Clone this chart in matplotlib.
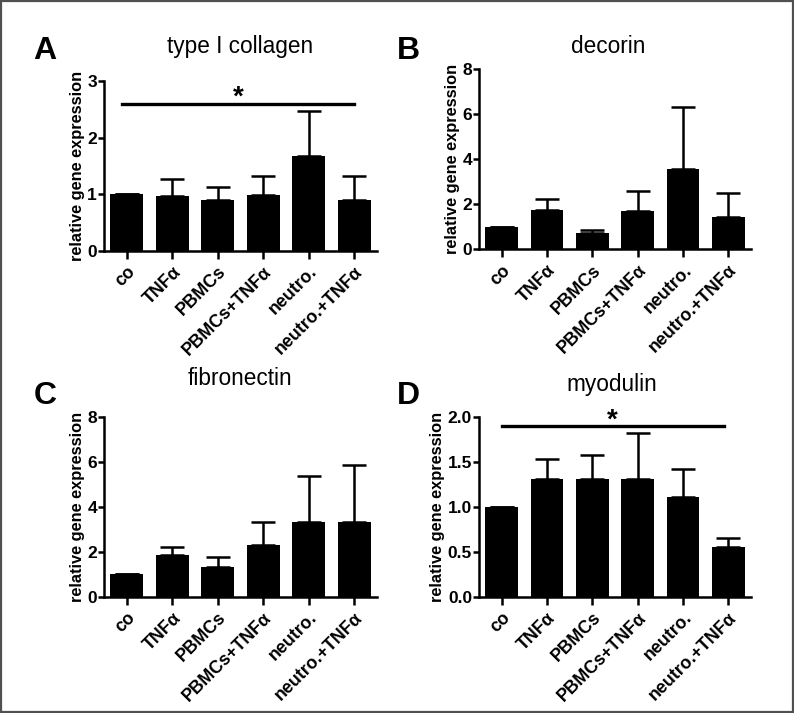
import numpy as np
import matplotlib
matplotlib.use("Agg")
import matplotlib.pyplot as plt
from matplotlib.patches import Rectangle

plt.rcParams['font.family'] = ['Liberation Sans', 'DejaVu Sans']

# ================================================
# DATA
# ================================================
groups = ["co", "TNF\u03b1", "PBMCs", "PBMCs+TNF\u03b1", "neutro.", "neutro.+TNF\u03b1"]

collagen_mean = [1.0, 0.97, 0.89, 0.99, 1.67, 0.90]
collagen_top = [1.0, 1.27, 1.12, 1.32, 2.47, 1.32]

decorin_mean = [1.0, 1.75, 0.71, 1.72, 3.55, 1.42]
decorin_top = [1.0, 2.22, 0.86, 2.60, 6.34, 2.52]

fibronectin_mean = [1.0, 1.85, 1.33, 2.30, 3.33, 3.33]
fibronectin_top = [1.0, 2.19, 1.75, 3.31, 5.38, 5.85]

myodulin_mean = [1.0, 1.31, 1.31, 1.31, 1.11, 0.55]
myodulin_top = [1.0, 1.53, 1.57, 1.82, 1.42, 0.65]

# significance bars: (level, from, to) or None
collagen_sig = (2.6, -0.1, 5.0)
myodulin_sig = (1.9, 0.0, 4.9)

panels = [
    ("A", "type I collagen", collagen_mean, collagen_top, 3, [0, 1, 2, 3], ["0", "1", "2", "3"], collagen_sig),
    ("B", "decorin", decorin_mean, decorin_top, 8, [0, 2, 4, 6, 8], ["0", "2", "4", "6", "8"], None),
    ("C", "fibronectin", fibronectin_mean, fibronectin_top, 8, [0, 2, 4, 6, 8], ["0", "2", "4", "6", "8"], None),
    ("D", "myodulin", myodulin_mean, myodulin_top, 2, [0, 0.5, 1, 1.5, 2], ["0.0", "0.5", "1.0", "1.5", "2.0"], myodulin_sig),
]

W, H = 794, 713
# axes boxes in pixels (left, top, right, bottom)
boxes = [
    (104, 81, 377, 250.7),
    (479, 69.3, 751, 249.3),
    (104, 416.7, 377, 596.7),
    (479, 416.7, 751, 596.7),
]
# panel letter and title positions in pixels
letter_pos = [(33, 51), (397, 51), (34, 396), (397, 396)]
title_pos = [(240, 53), (608, 53), (240, 385), (612, 391)]

fig = plt.figure(figsize=(W / 100, H / 100), dpi=100)
fig.patches.append(Rectangle((0.0015, 0.0015), 0.997, 0.997, transform=fig.transFigure,
                             fill=False, edgecolor="#505050", linewidth=1.6))

x = np.arange(len(groups))

for i, (letter, title, mean, top, ymax, yt, ytl, sig) in enumerate(panels):
    l, t, r, b = boxes[i]
    ax = fig.add_axes([l / W, 1 - b / H, (r - l) / W, (b - t) / H])
    mean = np.array(mean)
    top = np.array(top)
    up = top - mean
    ax.errorbar(x, mean, yerr=[np.zeros_like(up), up], fmt="none", ecolor="black",
                elinewidth=1.8, capsize=8.5, capthick=1.8, zorder=1)
    ax.bar(x, mean, width=0.72, color="black", zorder=2)

    ax.set_xlim(-0.5, 5.5)
    ax.set_ylim(0, ymax)
    ax.set_yticks(yt)
    ax.set_yticklabels(ytl, fontsize=12.5, fontweight="bold")
    ax.set_xticks(x)
    ax.set_xticklabels(groups, rotation=45, ha="right", rotation_mode="anchor",
                       fontsize=12.8, fontweight="bold")
    for s in ["top", "right"]:
        ax.spines[s].set_visible(False)
    for s in ["left", "bottom"]:
        ax.spines[s].set_linewidth(1.8)
    ax.tick_params(axis="y", length=4, width=1.8, pad=1)
    ax.tick_params(axis="x", length=6, width=1.8, pad=3)
    ax.set_ylabel("relative gene expression", fontsize=11.8, fontweight="bold", labelpad=2)

    lx, ly = letter_pos[i]
    fig.text(lx / W, 1 - ly / H, letter, fontsize=23, fontweight="bold", ha="left", va="center")
    tx, ty = title_pos[i]
    fig.text(tx / W, 1 - ty / H, title, fontsize=16.3, ha="center", va="baseline")

    if sig is not None:
        level, x0, x1 = sig
        ax.plot([x0, x1], [level, level], color="black", lw=2.4, clip_on=False, zorder=3)
        ax.annotate("*", xy=((x0 + x1) / 2, level), xytext=(0, 4), textcoords="offset points",
                    ha="center", va="center", fontsize=20, fontweight="bold",
                    annotation_clip=False)

fig.savefig("out.png", dpi=100)
